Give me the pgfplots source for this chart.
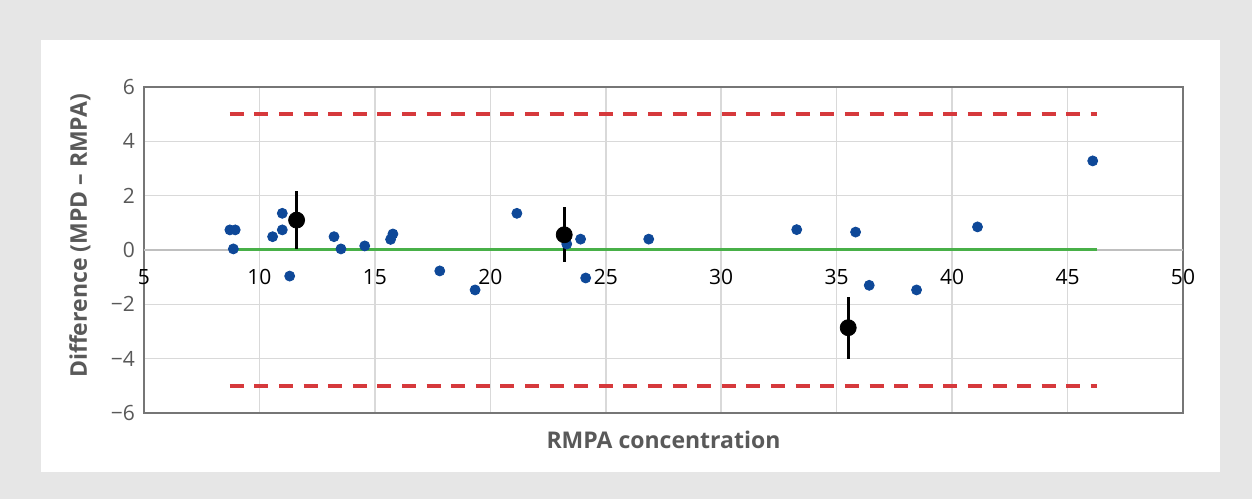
\documentclass[border=0pt]{standalone}
\usepackage{pgfplots}
\pgfplotsset{compat=1.18}
\usepackage{fontspec}
\setmainfont{Open Sans}
\definecolor{bgray}{RGB}{230,230,230}
\definecolor{txtgray}{RGB}{89,89,89}
\definecolor{boxgray}{RGB}{118,118,118}
\definecolor{gridgray}{RGB}{217,217,217}
\definecolor{zerogray}{RGB}{191,191,191}
\definecolor{ptblue}{RGB}{14,72,152}
\definecolor{limred}{RGB}{214,57,60}
\definecolor{meangreen}{RGB}{72,176,72}
\begin{document}
\begin{tikzpicture}
\fill[bgray] (0,0) rectangle (626pt,249.5pt);
\fill[white] (20.5pt,13.75pt) rectangle (610pt,229.5pt);
\begin{axis}[
  at={(72pt,43pt)}, anchor=south west,
  scale only axis, width=519.5pt, height=163pt,
  xmin=5, xmax=50, ymin=-6, ymax=6,
  xtick={5,10,...,50}, ytick={-6,-4,...,6},
  yticklabels={−6,−4,−2,0,2,4,6},
  grid=major, grid style={gridgray, line width=0.8pt},
  axis line style={boxgray, line width=1.1pt},
  tick style={draw=none},
  tick label style={font=\fontsize{10.5}{12}\selectfont, text=txtgray},
  /pgf/number format/assume math mode=true,
  xticklabel style={anchor=center, yshift=68pt, text=black},
  yticklabel style={xshift=-1pt},
  extra y ticks={0}, extra y tick labels={},
  extra y tick style={grid style={zerogray, line width=1.1pt}},
  xlabel={\textbf{RMPA concentration}},
  ylabel={\textbf{Difference (MPD – RMPA)}},
  label style={font=\fontsize{11.5}{13}\selectfont, text=txtgray},
  xlabel style={at={(axis description cs:0.5,-0.083)}, anchor=center},
  ylabel style={at={(axis description cs:-0.0616,0.543)}, anchor=center, rotate=0},
  clip=false,
]
% limits of agreement
\addplot[limred, line width=1.7pt, dash pattern=on 7pt off 5.3pt] coordinates {(8.72,5) (46.26,5)};
\addplot[limred, line width=1.7pt, dash pattern=on 7pt off 5.3pt] coordinates {(8.72,-5) (46.26,-5)};
% mean
\addplot[meangreen, line width=1.5pt] coordinates {(8.87,0.03) (46.26,0.03)};
% observations
\addplot[only marks, mark=*, mark size=2.5pt, ptblue, mark options={draw=ptblue, fill=ptblue}] coordinates {
(8.72,0.74) (8.95,0.74) (8.87,0.04) (10.57,0.49) (10.99,1.35) (10.99,0.74)
(11.31,-0.96) (13.23,0.49) (13.53,0.04) (14.56,0.15) (15.68,0.39) (15.78,0.59)
(17.81,-0.77) (19.34,-1.47) (21.15,1.35) (23.31,0.22) (23.91,0.40) (24.13,-1.03)
(26.86,0.40) (33.27,0.75) (35.82,0.66) (36.41,-1.30) (38.46,-1.47) (41.10,0.85)
(46.09,3.28)
};
% group means with error bars
\addplot[only marks, mark=*, mark size=4pt, black,
  error bars/.cd, y dir=both, y explicit, error mark=none,
  error bar style={line width=1.4pt, black}] coordinates {
(11.61,1.10) +- (0,1.06)
(23.20,0.56) +- (0,1.01)
(35.50,-2.86) +- (0,1.14)
};
\end{axis}
\end{tikzpicture}
\end{document}
